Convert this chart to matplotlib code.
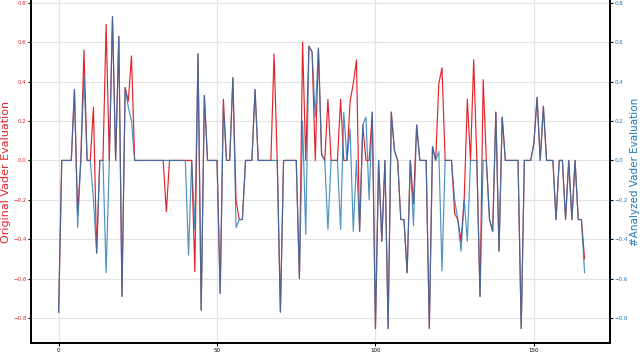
import matplotlib
matplotlib.use("Agg")
import matplotlib.pyplot as plt
import numpy as np

# Vader scores per sentence
original = [
    -0.77, 0, 0, 0, 0, 0.36, -0.27, 0, 0.56, 0,
    0, 0.27, -0.47, 0, 0, 0.69, 0, 0.73, 0, 0.63,
    -0.69, 0.37, 0.30, 0.53, 0, 0, 0, 0, 0, 0,
    0, 0, 0, 0, -0.26, 0, 0, 0, 0, 0,
    0, 0, 0, -0.565, 0.54, -0.76, 0.33, 0, 0, 0,
    0, -0.675, 0.31, 0, 0, 0.42, -0.2, -0.30, -0.30, 0,
    0, 0, 0.36, 0, 0, 0, 0, 0, 0.54, 0,
    -0.77, 0, 0, 0, 0, 0, -0.6, 0.6, 0, 0.58,
    0.55, 0, 0.57, 0.03, 0, 0.31, 0, 0, 0, 0.31,
    0, 0, 0.30, 0.39, 0.51, -0.36, 0.18, 0, 0, 0.245,
    -0.853, 0, -0.41, 0, -0.853, 0.245, 0.05, 0, -0.3, -0.3,
    -0.57, 0, -0.22, 0.18, 0, 0, 0, -0.853, 0.07, 0,
    0.39, 0.47, 0, 0, 0, -0.27, -0.3, -0.41, -0.2, 0.31,
    0, 0.51, 0, -0.69, 0.41, 0, -0.3, -0.36, 0.245, -0.46,
    0.22, 0, 0, 0, 0, 0, -0.853, 0, 0, 0,
    0.085, 0.32, 0, 0.275, 0, 0, 0, -0.3, 0, 0,
    -0.3, 0, -0.3, 0, -0.3, -0.3, -0.5,
]
analyzed = [
    -0.77, 0, 0, 0, 0, 0.36, -0.34, 0, 0.43, 0,
    0, -0.20, -0.47, 0, 0, -0.57, 0, 0.73, 0, 0.63,
    -0.69, 0.37, 0.27, 0.20, 0, 0, 0, 0, 0, 0,
    0, 0, 0, 0, 0, 0, 0, 0, 0, 0,
    0, -0.48, 0, -0.35, 0.54, -0.76, 0.33, 0, 0, 0,
    0, -0.675, 0.27, 0, 0, 0.42, -0.34, -0.30, -0.30, 0,
    0, 0, 0.36, 0, 0, 0, 0, 0, 0, 0,
    -0.77, 0, 0, 0, 0, 0, -0.6, 0.2, -0.375, 0.58,
    0.55, 0.22, 0.57, 0.03, 0, -0.35, 0, 0, 0, -0.35,
    0.245, 0, 0.16, -0.36, 0, -0.36, 0.18, 0.22, -0.2, 0.245,
    -0.853, 0, -0.41, 0, -0.853, 0.245, 0.05, 0, -0.3, -0.3,
    -0.57, 0, -0.33, 0.18, 0, 0, 0, -0.853, 0.07, 0,
    0.045, -0.56, 0, 0, 0, -0.2, -0.3, -0.46, -0.2, -0.41,
    0, 0, 0, -0.69, 0, 0, -0.3, -0.36, 0.245, -0.46,
    0.22, 0, 0, 0, 0, 0, -0.853, 0, 0, 0,
    0.085, 0.32, 0, 0.275, 0, 0, 0, -0.3, 0, 0,
    -0.3, 0, -0.3, 0, -0.3, -0.3, -0.57,
]
x_ticks = [0, 50, 100, 150]
y_ticks = [-0.8, -0.6, -0.4, -0.2, 0.0, 0.2, 0.4, 0.6, 0.8]

red = '#e3242b'
blue = '#1f77b4'

plt.rcParams['axes.linewidth'] = 1.3
plt.rcParams['font.family'] = 'DejaVu Sans'

fig = plt.figure(figsize=(6.4, 3.53), dpi=100)
ax1 = fig.add_axes([0.049, 0.028, 0.904, 0.972])
ax2 = ax1.twinx()

idx = np.arange(len(original))
ax1.plot(idx, original, color=red, lw=0.85)
ax2.plot(idx, analyzed, color=blue, lw=0.85, alpha=0.8)

for ax in (ax1, ax2):
    ax.set_ylim(-0.927, 0.814)
    ax.set_xlim(-8.6, 174)
    ax.set_yticks(y_ticks)
    ax.spines['top'].set_visible(False)
    for s in ('left', 'right', 'bottom'):
        ax.spines[s].set_color('black')

ax1.set_xticks(x_ticks)
ax1.grid(True, color='#e3e3e3', lw=0.9)
ax1.set_axisbelow(True)
ax1.tick_params(axis='x', labelsize=4, length=2, pad=1.5)
ax1.tick_params(axis='y', labelsize=4, length=2, pad=1.5, labelcolor=red)
ax2.tick_params(axis='y', labelsize=4, length=2, pad=1.5, labelcolor=blue)

ax1.set_ylabel('Original Vader Evaluation', color=red, fontsize=8)
ax2.set_ylabel('#Analyzed Vader Evaluation', color=blue, fontsize=7.5)
ax1.yaxis.set_label_coords(-0.036, 0.5)
ax2.yaxis.set_label_coords(1.035, 0.5)

fig.savefig('out.png', dpi=100)
